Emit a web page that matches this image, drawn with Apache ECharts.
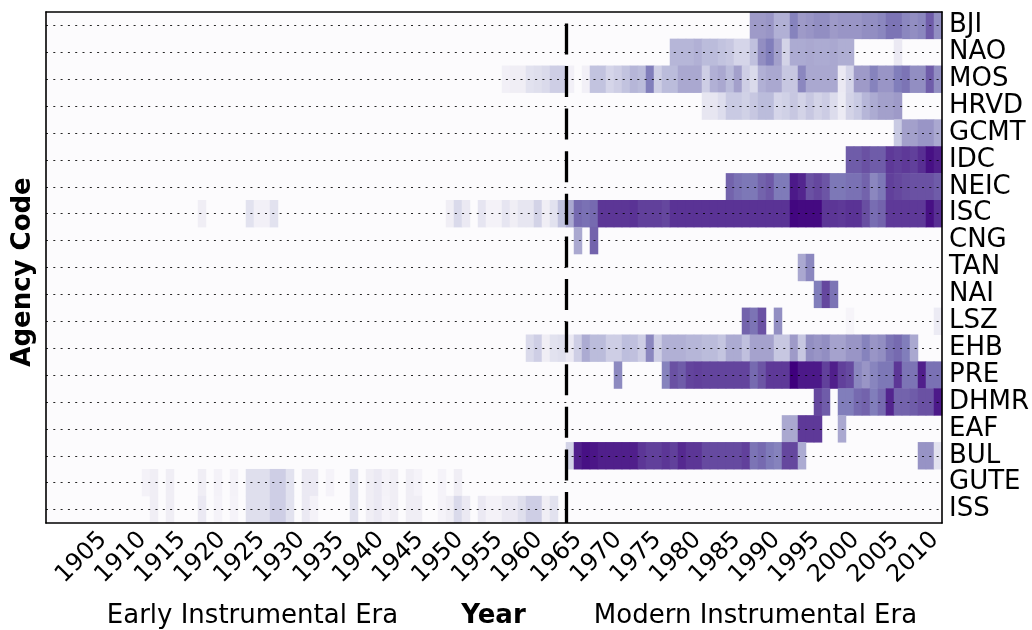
<!DOCTYPE html>
<html><head><meta charset="utf-8">
<script src="https://cdn.jsdelivr.net/npm/echarts@6/dist/echarts.min.js"></script>
<style>html,body{margin:0;padding:0;background:#fff}#c{width:1032px;height:630px}</style>
</head><body><div id="c"></div>
<script>
// ---------- data ----------
const agencies = ['BJI','NAO','MOS','HRVD','GCMT','IDC','NEIC','ISC','CNG','TAN','NAI','LSZ','EHB','PRE','DHMR','EAF','BUL','GUTE','ISS'];
const firstYear = 1899;
const lastYear = 2010;
const tickLabels = [1905,1910,1915,1920,1925,1930,1935,1940,1945,1950,1955,1960,1965,1970,1975,1980,1985,1990,1995,2000,2005,2010];
const eraDivider = 1964;
// each agency: list of [startYear, [intensity per consecutive year]] (0 = no data)
const BJI = [[1987, [.5,.5,.52,.42,.42,.6,.5,.52,.55,.55,.5,.52,.52,.52,.55,.55,.58,.65,.65,.58,.55,.58,.72,.55]]];
const NAO = [[1977, [.4,.4,.4,.42,.38,.38,.35,.33,.27,.27,.36,.55,.62,.48,.28,.44,.44,.45,.44,.44,.45,.43,.43]], [2005, [.15]]];
const MOS = [[1956, [.1,.12,.12,.2,.22,.25,.3,.3, .1,0,.1,.35,.35,.27,.3,.35,.4,.38, .62,.3,.38,.38,.45,.45,.45,.3,.42,.45, .38,.48,.3,.25,.42,.45,.45,.33,.33,.58, .45,.45,.45,.45,.15,.27,.5,.5,.6,.52, .52,.62,.65,.55,.55,.72,.55]]];
const HRVD = [[1981, [.17,.17,.23,.32,.32,.29,.33,.38,.38,.27,.29,.33,.28,.33,.28,.31,.24,.14,.28,.32,.4,.44,.48,.48,.5]]];
const GCMT = [[2005, [.32,.48,.48,.52,.52,.45]]];
const IDC = [[1999, [.72,.72,.75,.72,.72,.82,.8,.82,.8,.85,.95,.9]]];
const NEIC = [[1984, [.7,.66,.64,.64,.7,.73,.63,.63,.92,.88,.75,.78,.74,.64,.64,.66,.66,.7,.58,.64,.8,.78,.76,.75,.75,.75,.72]]];
const ISC = [[1918, [.12]], [1924, [.2,.1,.1,.2]],
  [1949, [.12,.25,.15,0,.18,.08,.08,.18,.12,.17,.17,.28,.12,.2,.35,
          .45,.68,.66,.68,.83,.83,.83,.83,.84,.8,.8,.8,.78,.84,.84,.84,.84,.84,.84,.84,
          .84,.84,.84,.84,.84,.84,.84,.84,.98,.97,.97,.97,.83,.83,.82,.84,.84,.76,.67,.7,
          .82,.82,.82,.82,.82,.95,.85]]];
const CNG = [[1965, [.45]], [1967, [.7]]];
const TAN = [[1993, [.45,.58]]];
const NAI = [[1995, [.62,.78,.65]]];
const LSZ = [[1986, [.7,.65,.75,0,.55]], [1999, [.06]], [2010, [.14]]];
const EHB = [[1959, [.25,.3,.12,.2,.22, .15,.3,.44,.38,.38,.3,.3,.37,.36,.3, .58,.3,.42,.42,.42,.4,.4,.38,.38,.34, .44,.44,.36,.47,.47,.47,.33,.33,.5,.33, .55,.52,.55,.47,.47,.52,.52,.6,.52,.55, .65,.68,.62,.45]]];
const PRE = [[1970, [.57]], [1976, [.6,.75,.72,.79,.8,.79,.79,.79,.79,.79, .79,.68,.74,.82,.82,.82,1,.92,.92,.92, .8,.9,.8,.77,.58,.52,.59,.64,.64,.83, .65,.65,.9,.66,.66]]];
const DHMR = [[1995, [.78,.72]], [1998, [.62,.62,.68,.7,.62,.68,.88,.7,.7,.72,.75,.75,.92]]];
const EAF = [[1991, [.45,.45,.82,.82,.82]], [1998, [.45]]];
const BUL = [[1964, [.28,.9,.95,.93,.9,.9,.9,.9,.9,.83,.8,.8,.83,.8,.87,.83,.83,.77,.77,.77,.77,.77,.8,.65,.68,.63,.6,.78,.78,.44]], [2008, [.53,.53,.2]]];
const GUTE = [[1911, [.08,.12,0,.12]], [1918, [.12,0,.08,0,.08,0,.22,.22,.22,.3,.3,.2,0,.15,.15,0,.07,0,0,.2,0,.12,.15,.08,.12,0,.12,.07,0,0,.07,0,.12]]];
const ISS = [[1912, [.12,0,.12]], [1918, [.15,0,.07,0,.07,0,.22,.22,.22,.3,.3,.2,0,.15,.08,0,0,0,0,.2,0,.12,.15,.07,.12,0,.12,.12,0,0,.07,.12,.25,.15,0,.15,.08,.08,.15,.15,.22,.3,.3,.12,.2]]];
const purples = ['#fcfbfd','#efedf5','#dadaeb','#bcbddc','#9e9ac8','#807dba','#6a51a3','#54278f','#3f007d'];

// ---------- build ----------
const rows = {BJI,NAO,MOS,HRVD,GCMT,IDC,NEIC,ISC,CNG,TAN,NAI,LSZ,EHB,PRE,DHMR,EAF,BUL,GUTE,ISS};
const years = [];
for (let y = firstYear; y <= lastYear; y++) years.push(String(y));
const cells = [];
agencies.forEach((a, r) => {
  rows[a].forEach(([start, vals]) => {
    vals.forEach((v, i) => { if (v > 0) cells.push([start + i - firstYear, r, v]); });
  });
});

const FONT = 'DejaVu Sans';
const frameLine = {show: true, onZero: false, lineStyle: {color: '#000', width: 1.6}};
const chart = echarts.init(document.getElementById('c'), null, {renderer: 'canvas'});
chart.setOption({
  animation: false,
  backgroundColor: '#fff',
  textStyle: {fontFamily: FONT},
  grid: [
    {left: 46, right: 90, top: 12, bottom: 107, show: true, backgroundColor: '#fcfbfd', borderWidth: 0, outerBoundsMode: 'none'},
    {left: 63.4, right: 57.4, top: 12, bottom: 107, outerBoundsMode: 'none'}
  ],
  visualMap: {type: 'continuous', show: false, min: 0, max: 1, dimension: 2, seriesIndex: 0, inRange: {color: purples}},
  xAxis: [
    {type: 'category', gridIndex: 0, data: years, position: 'bottom', z: 10, axisLine: frameLine, axisTick: {show: false}, axisLabel: {show: false}, splitLine: {show: false}},
    {type: 'category', gridIndex: 0, data: years, position: 'top', z: 10, axisLine: frameLine, axisTick: {show: false}, axisLabel: {show: false}, splitLine: {show: false}},
    {type: 'value', gridIndex: 0, min: firstYear, max: lastYear + 1, show: false},
    {type: 'value', gridIndex: 1, min: 1900, max: 2015, interval: 5, position: 'bottom',
     axisLine: {show: false}, axisTick: {show: false}, splitLine: {show: false},
     axisLabel: {rotate: 45, margin: 13, fontSize: 24, color: '#000', fontFamily: FONT,
       showMinLabel: true, showMaxLabel: true,
       formatter: v => tickLabels.indexOf(v) >= 0 ? String(v) : ''}}
  ],
  yAxis: [
    {type: 'category', gridIndex: 0, data: agencies, inverse: true, position: 'right', z: 10,
     axisLine: frameLine, axisTick: {show: false}, splitLine: {show: false},
     axisLabel: {interval: 0, margin: 7, fontSize: 26, color: '#000', fontFamily: FONT}},
    {type: 'value', gridIndex: 0, min: 0, max: 1, position: 'left', z: 10,
     axisLine: frameLine, axisTick: {show: false}, axisLabel: {show: false}, splitLine: {show: false}},
    {type: 'value', gridIndex: 1, min: 0, max: 1, show: false}
  ],
  series: [
    {type: 'heatmap', xAxisIndex: 0, yAxisIndex: 0, data: cells, progressive: 0,
     emphasis: {disabled: true}, itemStyle: {borderWidth: 0},
     markLine: {silent: true, symbol: ['none','none'], label: {show: false},
       lineStyle: {type: [2, 5.3], color: '#000', width: 1.2, opacity: 0.85},
       data: agencies.map(a => ({yAxis: a}))}},
    {type: 'line', xAxisIndex: 2, yAxisIndex: 1, data: [], silent: true,
     markLine: {silent: true, symbol: ['none','none'], label: {show: false},
       lineStyle: {type: [31, 11.6], color: '#000', width: 3.3},
       data: [{xAxis: eraDivider}]}}
  ],
  graphic: [
    {type: 'text', x: 252.5, y: 616, style: {text: 'Early Instrumental Era', font: '26px "DejaVu Sans"', fill: '#000', textAlign: 'center', textVerticalAlign: 'middle'}},
    {type: 'text', x: 493.5, y: 616, style: {text: 'Year', font: 'bold 26px "DejaVu Sans"', fill: '#000', textAlign: 'center', textVerticalAlign: 'middle'}},
    {type: 'text', x: 755.5, y: 616, style: {text: 'Modern Instrumental Era', font: '26px "DejaVu Sans"', fill: '#000', textAlign: 'center', textVerticalAlign: 'middle'}},
    {type: 'text', x: 23, y: 272, rotation: Math.PI / 2, style: {text: 'Agency Code', font: 'bold 26px "DejaVu Sans"', fill: '#000', textAlign: 'center', textVerticalAlign: 'middle'}}
  ]
});
</script>
</body></html>
